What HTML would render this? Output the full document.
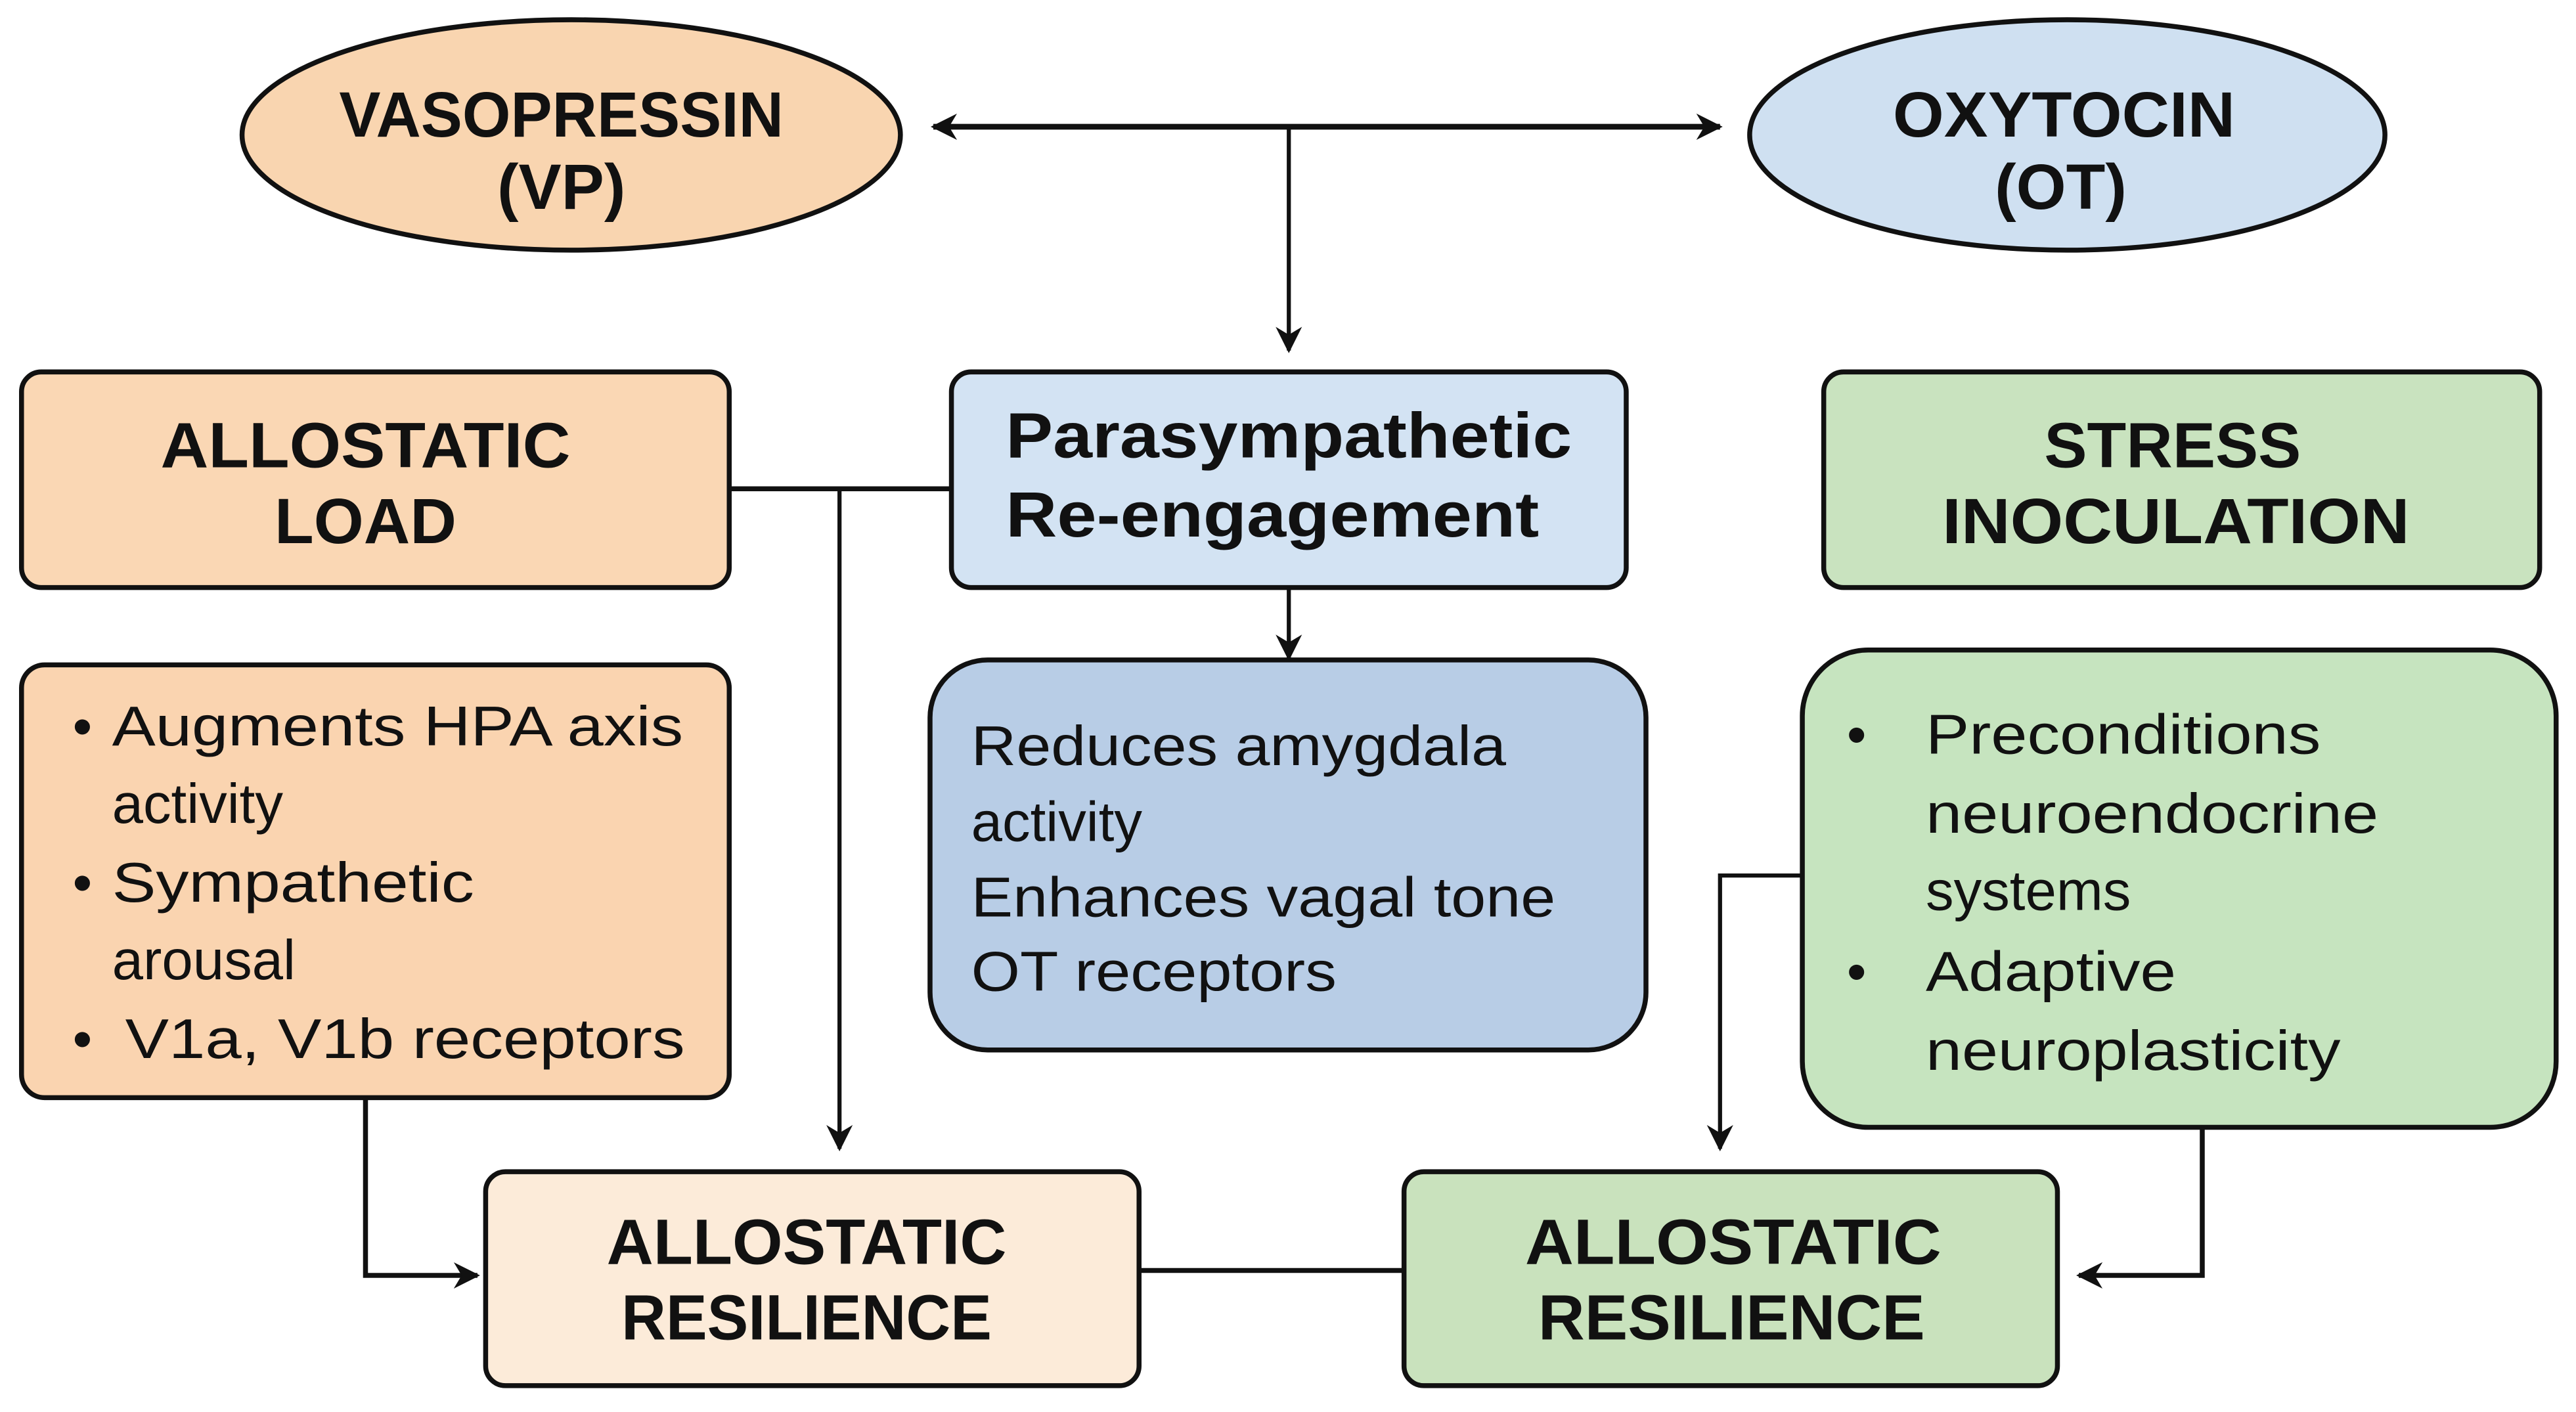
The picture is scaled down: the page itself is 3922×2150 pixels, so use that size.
<!DOCTYPE html>
<html><head><meta charset="utf-8"><style>html,body{margin:0;padding:0;background:#fff}svg{display:block}</style></head>
<body>
<svg width="3922" height="2150" viewBox="0 0 1565 858" xmlns="http://www.w3.org/2000/svg">
<defs>
<marker id="a" viewBox="0 0 10 10" refX="9" refY="5" markerWidth="7" markerHeight="7" orient="auto-start-reverse" markerUnits="userSpaceOnUse">
<path d="M0,0 L10,5 L0,10 L3,5 z" fill="#111"/></marker>
<marker id="b" viewBox="0 0 10 10" refX="9" refY="5" markerWidth="16" markerHeight="18" orient="auto-start-reverse" markerUnits="userSpaceOnUse">
<path d="M0,0 L10,5 L0,10 L3,5 z" fill="#111"/></marker>
</defs>
<g stroke="#111" stroke-width="3">
<ellipse cx="347" cy="82" rx="200" ry="70" fill="#f9d5b0"/>
<ellipse cx="1256" cy="82" rx="193" ry="70" fill="#cfe0f1"/>
<rect x="13" y="226" width="430" height="131" rx="12" fill="#fad7b4"/>
<rect x="578" y="226" width="410" height="131" rx="12" fill="#d3e3f3"/>
<rect x="1108" y="226" width="435" height="131" rx="12" fill="#c9e3bf"/>
<rect x="13" y="404" width="430" height="263" rx="14" fill="#fad4b0"/>
<rect x="565" y="401" width="435" height="237" rx="35" fill="#b8cde6"/>
<rect x="1095" y="395" width="458" height="290" rx="40" fill="#c6e4bf"/>
<rect x="295" y="712" width="397" height="130" rx="12" fill="#fcebd9"/>
<rect x="853" y="712" width="397" height="130" rx="12" fill="#c9e2bd"/>
</g>
<g stroke="#111" fill="none">
<line x1="567" y1="77" x2="1045" y2="77" stroke-width="3.5" marker-start="url(#b)" marker-end="url(#b)"/>
<line x1="783" y1="77" x2="783" y2="213" stroke-width="2.5" marker-end="url(#b)"/>
<line x1="443" y1="297" x2="578" y2="297" stroke-width="3"/>
<line x1="510" y1="297" x2="510" y2="698" stroke-width="2.5" marker-end="url(#b)"/>
<line x1="783" y1="357" x2="783" y2="400" stroke-width="2.5" marker-end="url(#b)"/>
<polyline points="1095,532 1045,532 1045,698" stroke-width="2.5" marker-end="url(#b)"/>
<line x1="692" y1="772" x2="853" y2="772" stroke-width="3"/>
<polyline points="222,667 222,775 290,775" stroke-width="3" marker-end="url(#b)"/>
<polyline points="1338,685 1338,775 1263,775" stroke-width="3" marker-end="url(#b)"/>
</g>
<g font-family="Liberation Sans, sans-serif" font-weight="bold" font-size="39" fill="#111" text-anchor="middle">
<text x="341" y="83" textLength="270" lengthAdjust="spacingAndGlyphs">VASOPRESSIN</text>
<text x="341" y="127">(VP)</text>
<text x="1254" y="83" textLength="208" lengthAdjust="spacingAndGlyphs">OXYTOCIN</text>
<text x="1252" y="127">(OT)</text>
<text x="222" y="284" textLength="249" lengthAdjust="spacingAndGlyphs">ALLOSTATIC</text>
<text x="222" y="330">LOAD</text>
<text x="1320" y="284">STRESS</text>
<text x="1322" y="330" textLength="284" lengthAdjust="spacingAndGlyphs">INOCULATION</text>
<text x="490" y="768" textLength="243" lengthAdjust="spacingAndGlyphs">ALLOSTATIC</text>
<text x="490" y="814" textLength="225" lengthAdjust="spacingAndGlyphs">RESILIENCE</text>
<text x="1053" y="768" textLength="253" lengthAdjust="spacingAndGlyphs">ALLOSTATIC</text>
<text x="1052" y="814" textLength="235" lengthAdjust="spacingAndGlyphs">RESILIENCE</text>
<text x="611" y="278" text-anchor="start" textLength="344" lengthAdjust="spacingAndGlyphs">Parasympathetic</text>
<text x="611" y="326" text-anchor="start" textLength="324" lengthAdjust="spacingAndGlyphs">Re-engagement</text>
</g>
<g font-family="Liberation Sans, sans-serif" font-size="34" fill="#111">
<text x="44" y="453">•</text><text x="68" y="453" textLength="347" lengthAdjust="spacingAndGlyphs">Augments HPA axis</text>
<text x="68" y="500">activity</text>
<text x="44" y="548">•</text><text x="68" y="548" textLength="220" lengthAdjust="spacingAndGlyphs">Sympathetic</text>
<text x="68" y="595">arousal</text>
<text x="44" y="643">•</text><text x="76" y="643" textLength="340" lengthAdjust="spacingAndGlyphs">V1a, V1b receptors</text>
<text x="590" y="465" textLength="325" lengthAdjust="spacingAndGlyphs">Reduces amygdala</text>
<text x="590" y="511">activity</text>
<text x="590" y="557" textLength="355" lengthAdjust="spacingAndGlyphs">Enhances vagal tone</text>
<text x="590" y="602" textLength="222" lengthAdjust="spacingAndGlyphs">OT receptors</text>
<text x="1122" y="458">•</text><text x="1170" y="458" textLength="240" lengthAdjust="spacingAndGlyphs">Preconditions</text>
<text x="1170" y="506" textLength="275" lengthAdjust="spacingAndGlyphs">neuroendocrine</text>
<text x="1170" y="553">systems</text>
<text x="1122" y="602">•</text><text x="1170" y="602" textLength="152" lengthAdjust="spacingAndGlyphs">Adaptive</text>
<text x="1170" y="650" textLength="252" lengthAdjust="spacingAndGlyphs">neuroplasticity</text>
</g>
</svg>
</body></html>
